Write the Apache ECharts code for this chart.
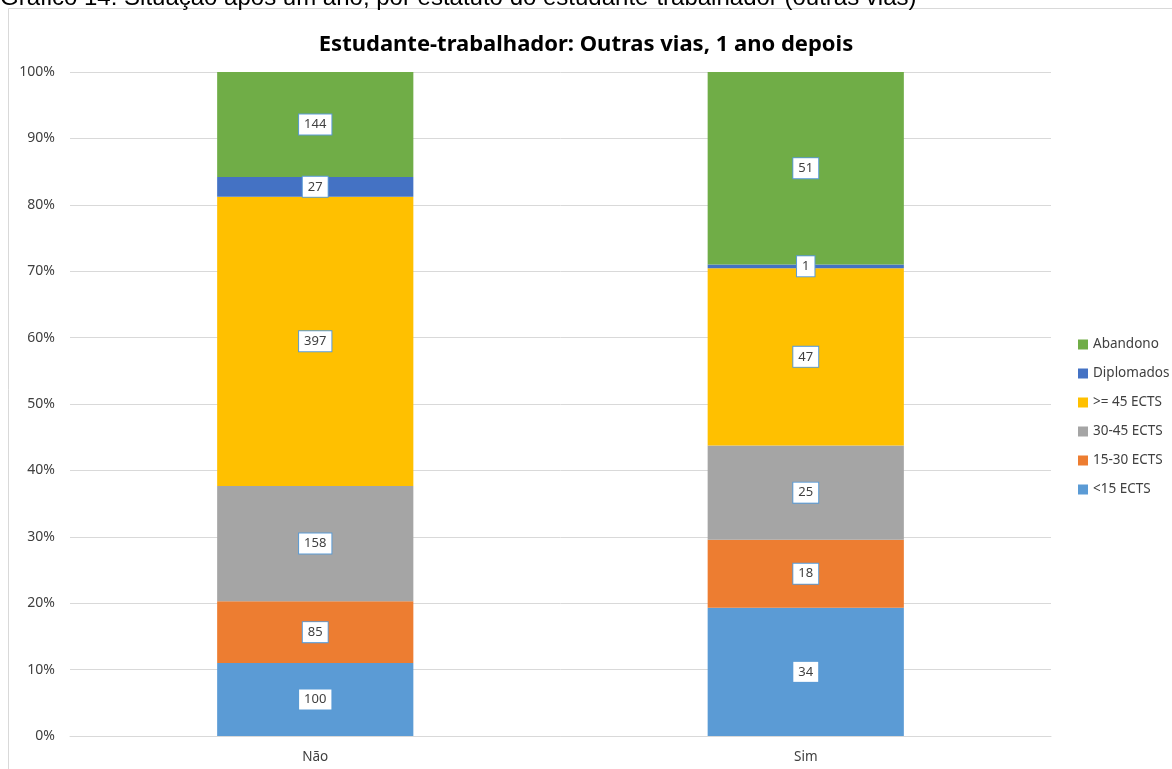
<!DOCTYPE html>
<html>
<head>
<meta charset="utf-8">
<script src="https://cdn.jsdelivr.net/npm/echarts@6/dist/echarts.min.js"></script>
<style>
  html, body { margin: 0; padding: 0; background: #fff; }
  #main { width: 1172px; height: 769px; }
</style>
</head>
<body>
<div id="main"></div>
<script>
var categories = ['Não', 'Sim']
var seriesNames = ['<15 ECTS', '15-30 ECTS', '30-45 ECTS', '>= 45 ECTS', 'Diplomados', 'Abandono']
var seriesColors = ['#5B9BD5', '#ED7D31', '#A5A5A5', '#FFC000', '#4472C4', '#70AD47']
// contagens por categoria (Não, Sim)
var menos15 = [100, 34]
var de15a30 = [85, 18]
var de30a45 = [158, 25]
var mais45 = [397, 47]
var diplomados = [27, 1]
var abandono = [144, 51]

var counts = [menos15, de15a30, de30a45, mais45, diplomados, abandono]
var totals = categories.map(function (c, i) {
  var s = 0
  counts.forEach(function (arr) { s += arr[i] })
  return s
})

var myChart = echarts.init(document.getElementById('main'))
var font = '"Noto Sans", "Open Sans", sans-serif'

var series = counts.map(function (arr, k) {
  return {
    name: seriesNames[k],
    type: 'bar',
    stack: 'total',
    barWidth: '40%',
    itemStyle: { color: seriesColors[k] },
    data: arr.map(function (v, i) {
      return { value: v / totals[i] * 100, count: v }
    }),
    label: {
      show: true,
      position: 'inside',
      formatter: function (p) { return p.data.count },
      color: '#404040',
      fontSize: 13,
      fontFamily: font,
      backgroundColor: '#fff',
      borderColor: '#5B9BD5',
      borderWidth: 1,
      padding: [4, 5, 3, 5]
    }
  }
})

var option = {
  animation: false,
  backgroundColor: '#fff',
  graphic: [
    {
      type: 'rect',
      shape: { x: 8.5, y: 8.5, width: 1200, height: 800 },
      style: { fill: 'none', stroke: '#d9d9d9', lineWidth: 1 },
      z: -1
    },
    {
      type: 'text',
      x: 0,
      y: 10,
      style: {
        text: 'Gráfico 14: Situação após um ano, por estatuto do estudante-trabalhador (outras vias)',
        font: '24px "Liberation Sans", Arial, sans-serif',
        fill: '#000',
        verticalAlign: 'bottom'
      }
    }
  ],
  title: {
    text: 'Estudante-trabalhador: Outras vias, 1 ano depois',
    left: 'center',
    top: 29,
    textStyle: { fontSize: 22, fontWeight: 'bold', color: '#000', fontFamily: font }
  },
  legend: {
    orient: 'vertical',
    left: 1073,
    top: 331,
    itemWidth: 10,
    itemHeight: 10,
    itemGap: 12,
    icon: 'rect',
    data: seriesNames.slice().reverse(),
    textStyle: { fontSize: 13.5, lineHeight: 17, color: '#404040', fontFamily: font }
  },
  grid: { left: 70, right: 121, top: 72, bottom: 33 },
  xAxis: {
    type: 'category',
    data: categories,
    axisLine: { lineStyle: { color: '#d9d9d9' } },
    axisTick: { show: false },
    axisLabel: { color: '#404040', fontSize: 13.5, fontFamily: font, margin: 14 }
  },
  yAxis: {
    type: 'value',
    min: 0,
    max: 100,
    interval: 10,
    axisLine: { show: false },
    axisTick: { show: false },
    splitLine: { lineStyle: { color: '#d9d9d9' } },
    axisLabel: { formatter: '{value}%', color: '#404040', fontSize: 14, fontFamily: font, margin: 15 }
  },
  series: series
}
myChart.setOption(option)
</script>
</body>
</html>
